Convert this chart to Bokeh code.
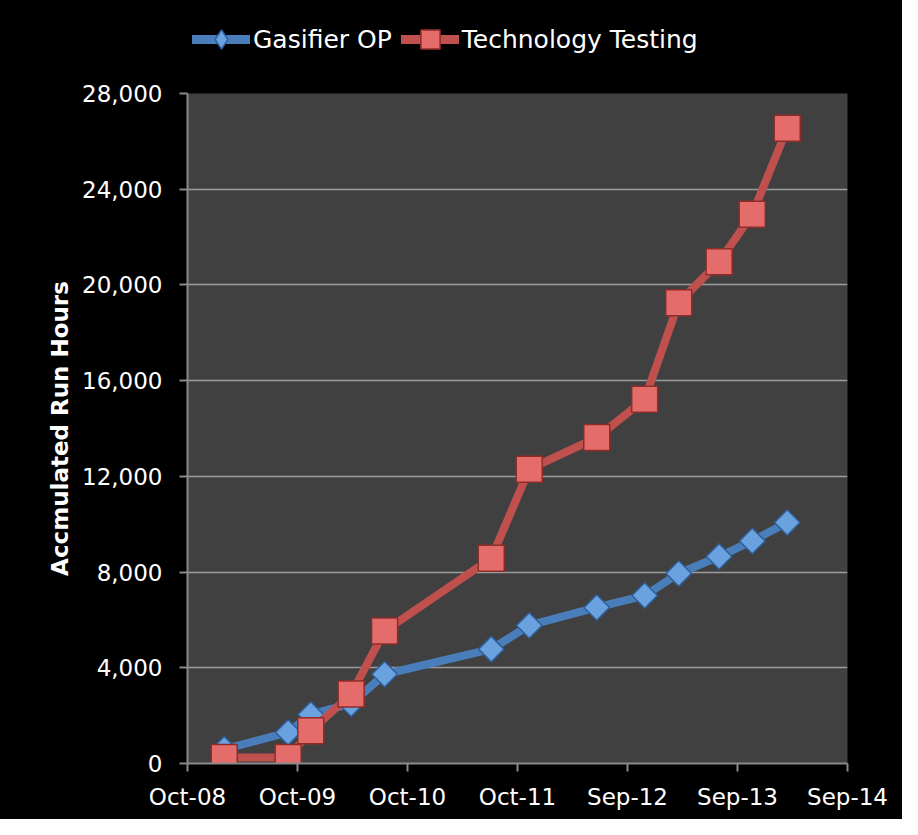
import math
import pandas as pd
from bokeh.plotting import figure
from bokeh.layouts import column
from bokeh.models import (ColumnDataSource, FixedTicker, DatetimeTickFormatter,
                          NumeralTickFormatter, Legend, LegendItem, Range1d)
from bokeh.embed import file_html
from bokeh.resources import INLINE

# ---------------- data ----------------
dates = ["2009-01-31", "2009-08-31", "2009-11-14", "2010-03-28", "2010-07-17",
         "2011-07-06", "2011-11-09", "2012-06-20", "2012-11-26", "2013-03-19",
         "2013-07-31", "2013-11-18", "2014-03-14"]
gasifier_op = [600, 1300, 2050, 2500, 3730, 4780, 5770, 6520, 7020, 7940,
               8650, 9300, 10070]
technology_testing = [250, 250, 1370, 2900, 5540, 8580, 12300, 13620, 15220,
                      19260, 20970, 22950, 26550]
x_tick_dates = ["2008-10-01", "2009-10-01", "2010-10-01", "2011-10-01",
                "2012-09-30", "2013-09-30", "2014-09-30"]
y_ticks = [0, 4000, 8000, 12000, 16000, 20000, 24000, 28000]
y_label = "Accmulated Run Hours"
series_names = ["Gasifier OP", "Technology Testing"]

FONT = "DejaVu Sans"
BLUE, BLUE_FILL, BLUE_EDGE = "#4a7ebb", "#6aa2e0", "#2f5f98"
RED, RED_FILL, RED_EDGE = "#c0504d", "#e46c6a", "#8e2c2a"
BLACK_BG = {"background-color": "black"}

src = ColumnDataSource(data=dict(x=pd.to_datetime(dates), g=gasifier_op, t=technology_testing))
tick_ms = [pd.Timestamp(d).value / 1e6 for d in x_tick_dates]

# ---------------- main chart ----------------
p = figure(width=902, height=756, output_backend="svg", toolbar_location=None,
           x_axis_type="datetime",
           x_range=Range1d(start=tick_ms[0], end=tick_ms[-1]),
           y_range=Range1d(start=y_ticks[0], end=y_ticks[-1]),
           min_border_left=187, min_border_right=55, min_border_top=30, min_border_bottom=56,
           styles=BLACK_BG)
p.background_fill_color = "#404040"
p.border_fill_color = "black"
p.outline_line_color = None

p.xgrid.grid_line_color = None
p.ygrid.grid_line_color = "#9c9c9c"
p.ygrid.grid_line_width = 1.5

p.xaxis.ticker = FixedTicker(ticks=tick_ms)
fmt = "%b-%y"
p.xaxis.formatter = DatetimeTickFormatter(milliseconds=fmt, seconds=fmt, minsec=fmt,
                                          minutes=fmt, hourmin=fmt, hours=fmt, days=fmt,
                                          months=fmt, years=fmt)
p.yaxis.ticker = FixedTicker(ticks=y_ticks)
p.yaxis.formatter = NumeralTickFormatter(format="0,0")
for ax in (p.xaxis[0], p.yaxis[0]):
    ax.axis_line_color = "#8a8a8a"
    ax.axis_line_width = 2
    ax.major_tick_line_color = "#8a8a8a"
    ax.major_tick_line_width = 2
    ax.major_tick_out = 8
    ax.major_tick_in = 0
    ax.minor_tick_line_color = None
    ax.major_label_text_color = "white"
    ax.major_label_text_font = FONT
    ax.major_label_text_font_size = "23px"
p.xaxis.major_label_standoff = 12
p.yaxis.major_label_standoff = 17
p.yaxis.axis_label = y_label
p.yaxis.axis_label_text_color = "white"
p.yaxis.axis_label_text_font = FONT
p.yaxis.axis_label_text_font_style = "bold"
p.yaxis.axis_label_text_font_size = "23px"
p.yaxis.axis_label_standoff = 6

p.line("x", "g", source=src, line_color=BLUE, line_width=8)
p.scatter("x", "g", source=src, marker="square", angle=math.pi / 4, size=18,
          fill_color=BLUE_FILL, line_color=BLUE_EDGE, line_width=1.5)
p.line("x", "t", source=src, line_color=RED, line_width=8)
p.scatter("x", "t", source=src, marker="square", size=26,
          fill_color=RED_FILL, line_color=RED_EDGE, line_width=1.5)

# ---------------- legend strip ----------------
lg = figure(width=902, height=63, output_backend="svg", toolbar_location=None,
            x_range=Range1d(0, 1), y_range=Range1d(0, 1),
            x_axis_location=None, y_axis_location=None,
            min_border_left=187, min_border_right=55, min_border_top=0, min_border_bottom=0,
            styles=BLACK_BG)
lg.background_fill_color = "black"
lg.border_fill_color = "black"
lg.outline_line_color = None
lg.grid.grid_line_color = None
gl = lg.line("x", "g", source=src, line_color=BLUE, line_width=9, line_cap="round")
gm = lg.scatter("x", "g", source=src, marker="diamond", size=14,
                fill_color=BLUE_FILL, line_color=BLUE_EDGE, line_width=1.5)
tl = lg.line("x", "t", source=src, line_color=RED, line_width=9, line_cap="round")
tm = lg.scatter("x", "t", source=src, marker="square", size=18,
                fill_color=RED_FILL, line_color=RED_EDGE, line_width=1.5)
legend = Legend(items=[LegendItem(label=series_names[0], renderers=[gl, gm]),
                       LegendItem(label=series_names[1], renderers=[tl, tm])],
                orientation="horizontal", location=(5, 0),
                glyph_width=58, glyph_height=48, label_text_color="white",
                label_text_font=FONT, label_text_font_size="25px",
                background_fill_alpha=0, border_line_color=None,
                padding=0, spacing=9, label_standoff=3, margin=0)
lg.add_layout(legend, "center")

layout = column(lg, p, spacing=0, styles=BLACK_BG)
open("out.html", "w").write(file_html(layout, INLINE))
